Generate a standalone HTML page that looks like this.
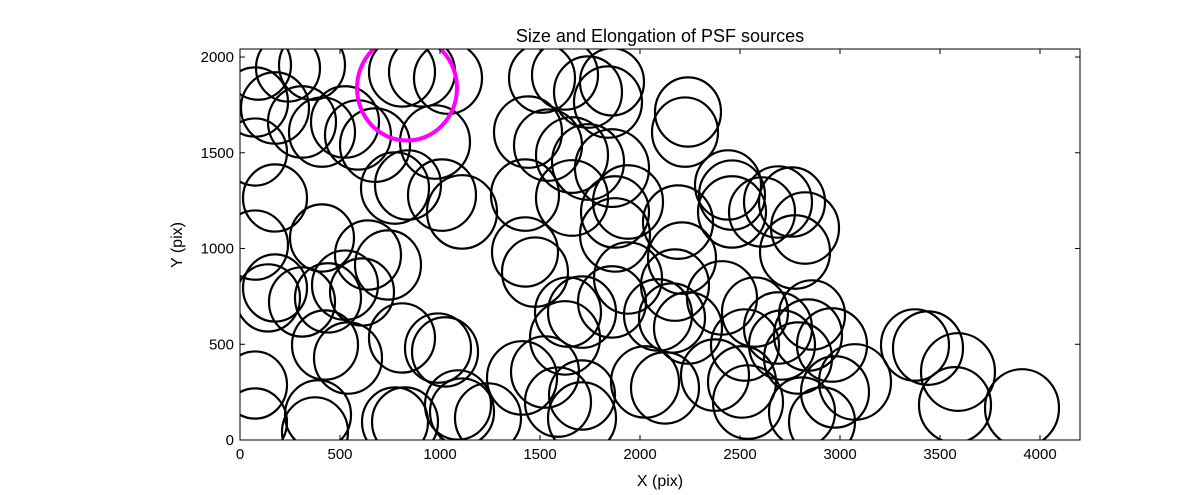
<!DOCTYPE html>
<html><head><meta charset="utf-8"><style>
body{margin:0;background:#fff;}
svg text{font-family:"Liberation Sans",sans-serif;fill:#000;}
</style></head><body>
<svg id="chart" width="1200" height="490" xmlns="http://www.w3.org/2000/svg">
<defs><clipPath id="clip"><rect x="240" y="49" width="840" height="391"/></clipPath></defs>
<rect width="1200" height="490" fill="#fff"/>
<g id="marks" clip-path="url(#clip)"></g>
<rect x="240" y="49" width="840" height="391" fill="none" stroke="#000" stroke-width="1"/>
<g id="axes"></g>
<text x="660" y="42" font-size="18" text-anchor="middle">Size and Elongation of PSF sources</text>
<text x="660" y="486" font-size="16" text-anchor="middle">X (pix)</text>
<text x="182" y="245" font-size="16" text-anchor="middle" transform="rotate(-90 182 245)">Y (pix)</text>
</svg>
<script>
const xs=[90,240,360,175,75,310,410,525,590,675,810,910,1040,975,75,175,775,840,1010,1110,75,410,640,740,175,140,310,440,525,610,425,540,810,990,1025,75,75,390,375,775,825,1090,1110,1240,1410,1510,1625,1860,1740,1840,2240,2225,1440,1540,1660,1740,1860,1425,1660,1875,1940,1425,1475,2190,2460,2460,2610,2690,2440,2210,2175,1940,1875,1640,1710,1625,1860,2090,2160,2240,2410,2575,2690,2710,2525,1525,1590,1710,1710,2025,2125,2375,2510,2540,2810,2790,2760,2825,2775,2860,2840,2960,3075,2975,2910,3375,3440,3590,3575,3910];
const ys=[1958,1943,1958,1734,1765,1661,1608,1661,1593,1540,1922,1922,1890,1556,1504,1264,1316,1332,1279,1191,1018,1055,966,914,794,742,721,742,809,773,496,428,533,480,460,287,94,131,42,94,94,183,146,115,324,1890,1906,1870,1817,1765,1713,1608,1608,1540,1488,1452,1420,1279,1264,1191,1243,982,877,1138,1279,1191,1191,1243,1332,950,809,846,1071,668,668,533,721,653,637,585,742,668,585,496,496,355,198,235,115,303,272,339,303,198,146,428,1243,1107,982,653,548,496,303,251,94,496,480,355,183,167];
const sizes=[165,160,165,170,165,170,165,170,165,175,165,165,170,175,160,160,170,165,170,175,165,160,165,165,160,160,165,165,165,160,165,170,165,165,165,160,160,165,165,165,165,165,160,165,175,165,165,160,170,170,165,165,170,170,180,180,185,170,180,170,175,165,165,175,165,170,165,170,165,170,170,170,175,165,170,175,170,170,165,170,175,165,170,165,170,170,165,165,170,170,170,170,170,175,165,170,165,170,175,165,170,175,180,170,165,170,175,185,180,185];
const highlightX=[835], highlightY=[1838], highlightSize=[250];
const xTicks=[0,500,1000,1500,2000,2500,3000,3500,4000];
const yTicks=[0,500,1000,1500,2000];
const X0=240,X1=1080,Y0=440,Y1=49,XMAX=4200,YMAX=2042;
const sx=v=>X0+v/XMAX*(X1-X0);
const sy=v=>Y0-v/YMAX*(Y0-Y1);
const NS="http://www.w3.org/2000/svg";
const marks=document.getElementById('marks'),axes=document.getElementById('axes');
function ell(x,y,s,color,w){
  const e=document.createElementNS(NS,'ellipse');
  const r=sx(s)-sx(0);
  e.setAttribute('cx',sx(x));e.setAttribute('cy',sy(y));
  e.setAttribute('rx',r);e.setAttribute('ry',r*1.05);
  e.setAttribute('fill','none');e.setAttribute('stroke',color);e.setAttribute('stroke-width',w);
  marks.appendChild(e);return e;
}
for(let i=0;i<xs.length;i++){
  const e=ell(xs[i],ys[i],sizes[i],'#000',2.2);
  
  
}
for(let i=0;i<highlightX.length;i++){
  const e=ell(highlightX[i],highlightY[i],highlightSize[i],'#ff00ff',4);
  
  
}
function line(x1,y1,x2,y2){const l=document.createElementNS(NS,'line');l.setAttribute('x1',x1);l.setAttribute('y1',y1);l.setAttribute('x2',x2);l.setAttribute('y2',y2);l.setAttribute('stroke','#000');axes.appendChild(l);}
function txt(x,y,s,anchor){const t=document.createElementNS(NS,'text');t.setAttribute('x',x);t.setAttribute('y',y);t.setAttribute('font-size','15');t.setAttribute('text-anchor',anchor);t.textContent=s;axes.appendChild(t);return t;}
xTicks.forEach(v=>{const x=sx(v);line(x,Y0,x,Y0-5);line(x,Y1,x,Y1+5);
  const t=txt(x,459,String(v),'middle');
  
  });
yTicks.forEach(v=>{const y=sy(v);line(X0,y,X0+5,y);line(X1,y,X1-5,y);
  const t=txt(234,y+5,String(v),'end');
  
  });
</script>
</body></html>
